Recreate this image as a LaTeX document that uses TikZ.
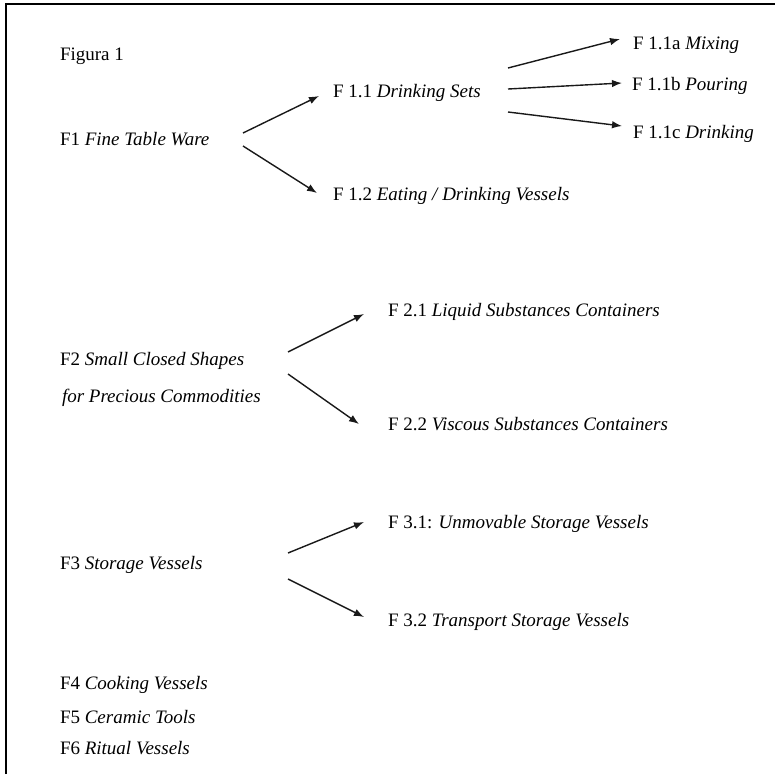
\documentclass[tikz,border=0pt]{standalone}
\usepackage{fontspec}
\setmainfont{Liberation Serif}
\usetikzlibrary{arrows.meta}
\begin{document}
\begin{tikzpicture}[x=1pt,y=-1pt,
  lbl/.style={anchor=base west,inner sep=0pt,outer sep=0pt,text=black,font=\fontsize{19}{23}\selectfont},
  arr/.style={draw=black!90,line width=1.4pt,-{Latex[length=10pt,width=7.5pt]}},
  frame/.style={draw=black,line width=2.6pt}]
\useasboundingbox (0,0) rectangle (775,774);
\fill[white] (0,0) rectangle (775,774);
\draw[frame] (6,774) -- (6,4) -- (775,4);

% texts
\node[lbl] (fig) at (60,60) {Figura 1};
\node[lbl] (f1) at (60,145) {F1 \textit{Fine Table Ware}};
\node[lbl] (f11) at (333,97) {F 1.1 \textit{Drinking Sets}};
\node[lbl] (f12) at (333,200) {F 1.2 \textit{Eating / Drinking Vessels}};
\node[lbl] (f11a) at (633,49) {F 1.1a \textit{Mixing}};
\node[lbl] (f11b) at (632,90) {F 1.1b \textit{Pouring}};
\node[lbl] (f11c) at (633,138) {F 1.1c \textit{Drinking}};
\node[lbl] (f2) at (60,365) {F2 \textit{Small Closed Shapes}};
\node[lbl] (f2b) at (62,402) {\textit{for Precious Commodities}};
\node[lbl] (f21) at (388,316) {F 2.1 \textit{Liquid Substances Containers}};
\node[lbl] (f22) at (388,430) {F 2.2 \textit{Viscous Substances Containers}};
\node[lbl] (f3) at (60,569) {F3 \textit{Storage Vessels}};
\node[lbl] (f31) at (388,528) {F 3.1: \textit{Unmovable Storage Vessels}};
\node[lbl] (f32) at (388,626) {F 3.2 \textit{Transport Storage Vessels}};
\node[lbl] (f4) at (60,689) {F4 \textit{Cooking Vessels}};
\node[lbl] (f5) at (60,723) {F5 \textit{Ceramic Tools}};
\node[lbl] (f6) at (60,754) {F6 \textit{Ritual Vessels}};

% arrow end points
\coordinate (f1o1) at (243,133);
\coordinate (f1o2) at (243,146);
\coordinate (f11i) at (319,96);
\coordinate (f12i) at (317,193);
\coordinate (f11oa) at (508,68);
\coordinate (f11ob) at (508,89);
\coordinate (f11oc) at (508,112);
\coordinate (f11ai) at (620,39);
\coordinate (f11bi) at (622,83);
\coordinate (f11ci) at (622,126);
\coordinate (f2o1) at (288,352);
\coordinate (f2o2) at (288,374);
\coordinate (f21i) at (364,314);
\coordinate (f22i) at (359,424);
\coordinate (f3o1) at (288,553);
\coordinate (f3o2) at (288,579);
\coordinate (f31i) at (364,522);
\coordinate (f32i) at (364,617);

\draw[arr] (f1o1) -- (f11i);
\draw[arr] (f1o2) -- (f12i);
\draw[arr] (f11oa) -- (f11ai);
\draw[arr] (f11ob) -- (f11bi);
\draw[arr] (f11oc) -- (f11ci);
\draw[arr] (f2o1) -- (f21i);
\draw[arr] (f2o2) -- (f22i);
\draw[arr] (f3o1) -- (f31i);
\draw[arr] (f3o2) -- (f32i);
\end{tikzpicture}
\end{document}
